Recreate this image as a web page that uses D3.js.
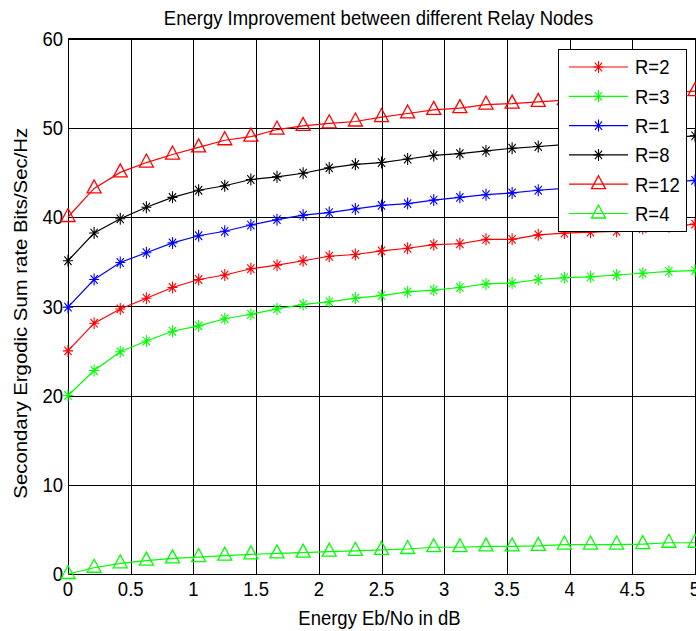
<!DOCTYPE html>
<html>
<head>
<meta charset="utf-8">
<script src="https://cdn.jsdelivr.net/npm/d3@7/dist/d3.min.js"></script>
<style>
  html, body { margin: 0; padding: 0; background: #fff; }
  text { font-family: "Liberation Sans", Arial, sans-serif; fill: #000; }
</style>
</head>
<body>
<div id="graph"></div>
<script>
// Eb/No points (dB), 25 samples
var ebno = [0, 0.2083, 0.4167, 0.625, 0.8333, 1.0417, 1.25, 1.4583, 1.6667, 1.875,
            2.0833, 2.2917, 2.5, 2.7083, 2.9167, 3.125, 3.3333, 3.5417, 3.75, 3.9583,
            4.1667, 4.375, 4.5833, 4.7917, 5];

var r2  = [25.0, 28.1, 29.7, 30.9, 32.1, 33.0, 33.5, 34.2, 34.6, 35.1, 35.6, 35.8, 36.2,
           36.5, 36.9, 37.0, 37.5, 37.5, 38.0, 38.2, 38.3, 38.4, 38.7, 38.9, 39.2];
var r3  = [20.0, 22.8, 24.9, 26.1, 27.2, 27.8, 28.6, 29.1, 29.7, 30.2, 30.5, 30.9, 31.2,
           31.6, 31.8, 32.1, 32.5, 32.6, 33.0, 33.2, 33.3, 33.5, 33.7, 33.9, 34.0];
var r1  = [29.9, 33.0, 34.9, 36.0, 37.1, 37.9, 38.4, 39.1, 39.7, 40.2, 40.5, 40.9, 41.3,
           41.5, 41.9, 42.2, 42.5, 42.7, 43.0, 43.2, 43.4, 43.6, 43.8, 43.9, 44.1];
var r8  = [35.1, 38.2, 39.8, 41.1, 42.2, 43.0, 43.5, 44.2, 44.5, 44.9, 45.5, 45.9, 46.1,
           46.5, 46.9, 47.1, 47.4, 47.7, 47.9, 48.1, 48.3, 48.5, 48.7, 48.9, 49.1];
var r12 = [40.0, 43.2, 45.0, 46.1, 47.0, 47.8, 48.6, 49.0, 49.8, 50.2, 50.5, 50.7, 51.2,
           51.6, 52.0, 52.2, 52.6, 52.7, 52.9, 53.1, 53.3, 53.5, 53.7, 53.9, 54.1];
var r4  = [0, 0.7, 1.2, 1.5, 1.75, 1.9, 2.05, 2.2, 2.3, 2.4, 2.5, 2.6, 2.7,
           2.8, 3.0, 3.0, 3.1, 3.1, 3.15, 3.3, 3.3, 3.3, 3.35, 3.5, 3.5];

var seriesNames  = ["R=2", "R=3", "R=1", "R=8", "R=12", "R=4"];
var seriesValues = [r2, r3, r1, r8, r12, r4];
var seriesColors = ["#ff0000", "#00ff00", "#0000ff", "#000000", "#ff0000", "#00ff00"];
var seriesMarker = ["star", "star", "star", "star", "tri", "tri"];

var xTicks = [0, 0.5, 1, 1.5, 2, 2.5, 3, 3.5, 4, 4.5, 5];
var yTicks = [0, 10, 20, 30, 40, 50, 60];

var titleText = "Energy Improvement between different Relay Nodes";
var xLabel = "Energy Eb/No in dB";
var yLabel = "Secondary Ergodic Sum rate Bits/Sec/Hz";

drawChart();

function drawChart() {
  var W = 696, H = 631;
  var pLeft = 68, pRight = 695, pTop = 38.5, pBottom = 574;
  var FS = 18.5, SY = 1.1;

  var svg = d3.select("#graph").append("svg")
      .attr("width", W)
      .attr("height", H);

  var x = d3.scaleLinear().domain([0, 5]).range([pLeft, pRight]);
  var y = d3.scaleLinear().domain([0, 60]).range([pBottom, pTop]);

  // grid
  svg.append("g")
      .attr("transform", "translate(0," + pBottom + ")")
      .call(d3.axisBottom(x).tickValues(xTicks).tickSize(-(pBottom - pTop)).tickFormat(""))
      .call(function(g) { g.select(".domain").remove(); })
      .selectAll("line").attr("stroke", "#000").attr("stroke-width", 1)
      .attr("shape-rendering", "crispEdges");

  svg.append("g")
      .attr("transform", "translate(" + pLeft + ",0)")
      .call(d3.axisLeft(y).tickValues(yTicks).tickSize(-(pRight - pLeft)).tickFormat(""))
      .call(function(g) { g.select(".domain").remove(); })
      .selectAll("line").attr("stroke", "#000").attr("stroke-width", 1)
      .attr("shape-rendering", "crispEdges");

  // box
  svg.append("rect")
      .attr("x", pLeft).attr("y", pTop)
      .attr("width", pRight - pLeft).attr("height", pBottom - pTop)
      .attr("fill", "none").attr("stroke", "#000").attr("stroke-width", 1)
      .attr("shape-rendering", "crispEdges");

  function addText(px, py, str, anchor, rot) {
    var tr = "translate(" + px + "," + py + ")";
    tr += rot ? " rotate(-90) scale(" + SY + ",1)" : " scale(1," + SY + ")";
    return svg.append("text")
        .attr("transform", tr)
        .attr("text-anchor", anchor)
        .style("font-size", FS + "px")
        .text(str);
  }

  // tick labels
  xTicks.forEach(function(t) {
    addText(x(t), 596, t, "middle", false);
  });
  yTicks.forEach(function(t) {
    addText(pLeft - 5, y(t) + 7.3, t, "end", false);
  });

  addText((pLeft + pRight) / 2 - 3, 25, titleText, "middle", false);
  addText((pLeft + pRight) / 2 - 2, 625, xLabel, "middle", false);
  addText(27, (pTop + pBottom) / 2 + 7, yLabel, "middle", true);

  var starPath = "M-5,0L5,0M0,-6L0,6M-3.6,-4.3L3.6,4.3M-3.6,4.3L3.6,-4.3";
  var triPath = "M0,-8.5L7,4.5L-7,4.5Z";

  function drawMarker(g, px, py, kind, color) {
    g.append("path")
        .attr("transform", "translate(" + px + "," + py + ")")
        .attr("d", kind == "star" ? starPath : triPath)
        .attr("fill", "none")
        .attr("stroke", color)
        .attr("stroke-width", kind == "star" ? 1.1 : 1.3);
  }

  var line = d3.line()
      .x(function(d, i) { return x(ebno[i]); })
      .y(function(d) { return y(d); });

  var plot = svg.append("g");
  for (var s = 0; s < seriesValues.length; s++) {
    var vals = seriesValues[s];
    plot.append("path")
        .attr("d", line(vals))
        .attr("fill", "none")
        .attr("stroke", seriesColors[s])
        .attr("stroke-width", 1.2);
    for (var i = 0; i < vals.length; i++) {
      drawMarker(plot, x(ebno[i]), y(vals[i]), seriesMarker[s], seriesColors[s]);
    }
  }

  // legend
  var lg = svg.append("g");
  lg.append("rect")
      .attr("x", 558).attr("y", 49)
      .attr("width", 128).attr("height", 182)
      .attr("fill", "#fff").attr("stroke", "#000").attr("stroke-width", 1)
      .attr("shape-rendering", "crispEdges");

  for (var k = 0; k < seriesNames.length; k++) {
    var ry = 67 + k * 29.3;
    lg.append("line")
        .attr("x1", 569).attr("x2", 628)
        .attr("y1", ry).attr("y2", ry)
        .attr("stroke", seriesColors[k]).attr("stroke-width", 1.2);
    drawMarker(lg, 598.5, ry, seriesMarker[k], seriesColors[k]);
    lg.append("text")
        .attr("transform", "translate(635," + (ry + 7.3) + ") scale(1," + SY + ")")
        .style("font-size", FS + "px")
        .text(seriesNames[k]);
  }
}
</script>
</body>
</html>
